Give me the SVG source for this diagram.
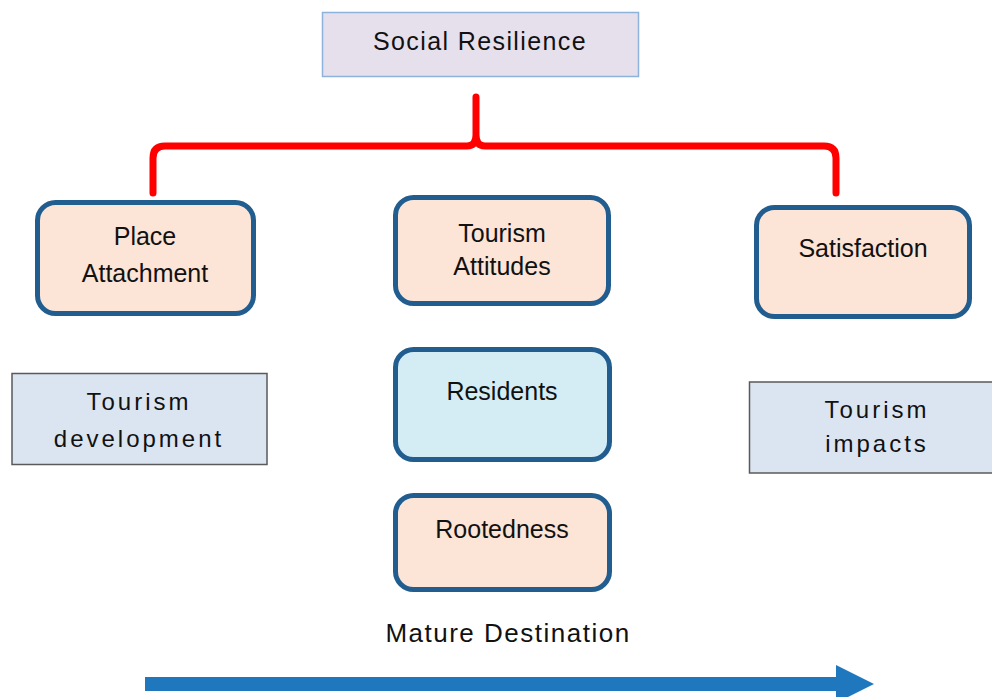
<svg xmlns="http://www.w3.org/2000/svg" width="992" height="697" viewBox="0 0 992 697">
<defs>
<style>
.t{font-family:"Liberation Sans",Arial,sans-serif;font-size:25px;fill:#111;text-anchor:middle}
.sp{letter-spacing:3px;font-size:24px}
.peach{fill:#fce4d6;stroke:#215d8e;stroke-width:5}
.cyan{fill:#d4edf5;stroke:#215d8e;stroke-width:5}
.grey{fill:#dbe5f1;stroke:#5a5a5a;stroke-width:1.5}
.lav{fill:#e6e0ec;stroke:#8db3dc;stroke-width:1.5}
</style>
</defs>
<rect width="992" height="697" fill="#ffffff"/>
<g id="connectors">
<path d="M153,193 V158 Q153,146 165,146 H467 Q476,146 476,135 V97 M476,97 V135 Q476,146 485,146 H824 Q836,146 836,158 V193" fill="none" stroke="#ff0000" stroke-width="7" stroke-linecap="round" stroke-linejoin="round"/>
<path d="M145,677 H836 V665 L874,684 L836,703 V691 H145 Z" fill="#1f78be"/>
</g>
<g id="social-resilience">
<rect class="lav" x="322.5" y="12.5" width="316" height="64"/>
<text class="t" x="480" y="50" style="letter-spacing:1.4px">Social Resilience</text>
</g>
<g id="place-attachment">
<rect class="peach" x="37.5" y="202.5" width="216" height="111" rx="18"/>
<text class="t" x="145" y="245">Place</text>
<text class="t" x="145" y="282">Attachment</text>
</g>
<g id="tourism-attitudes">
<rect class="peach" x="395.5" y="197.5" width="213" height="106" rx="18"/>
<text class="t" x="502" y="242">Tourism</text>
<text class="t" x="502" y="275">Attitudes</text>
</g>
<g id="satisfaction">
<rect class="peach" x="756.5" y="207.5" width="213" height="109" rx="18"/>
<text class="t" x="863" y="257">Satisfaction</text>
</g>
<g id="tourism-development">
<rect class="grey" x="12" y="373.5" width="255" height="91"/>
<text class="t sp" x="139" y="410">Tourism</text>
<text class="t sp" x="139" y="447">development</text>
</g>
<g id="residents">
<rect class="cyan" x="395.5" y="349.5" width="214" height="110" rx="18"/>
<text class="t" x="502" y="400">Residents</text>
</g>
<g id="rootedness">
<rect class="peach" x="395.5" y="495.5" width="214" height="94" rx="18"/>
<text class="t" x="502" y="538">Rootedness</text>
</g>
<g id="tourism-impacts">
<rect class="grey" x="749.5" y="382" width="244" height="91"/>
<text class="t sp" x="877" y="418">Tourism</text>
<text class="t sp" x="877" y="452">impacts</text>
</g>
<g id="mature-destination">
<text class="t" x="508" y="642" style="font-size:26px;letter-spacing:1.5px">Mature Destination</text>
</g>
</svg>
